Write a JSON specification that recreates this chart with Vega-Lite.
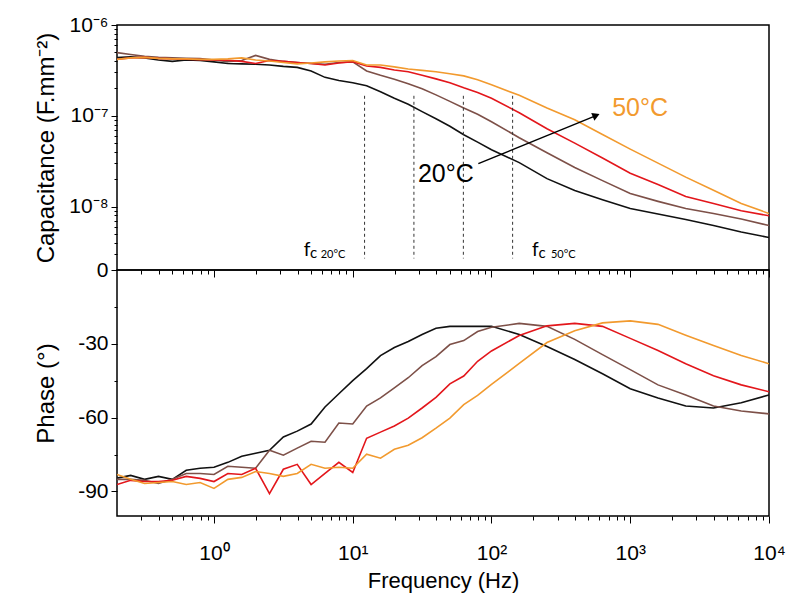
{
  "$schema": "https://vega.github.io/schema/vega-lite/v6.json",
  "padding": {"left": 33, "top": 13, "right": 5, "bottom": 5},
  "background": "white",
  "spacing": 0,
  "bounds": "flush",
  "config": {
    "view": {"stroke": "#000", "strokeWidth": 1.5},
    "font": "Liberation Sans",
    "axis": {"grid": false, "domain": false, "tickColor": "#000", "labelColor": "#000", "titleColor": "#000", "labelFont": "Liberation Sans", "titleFont": "Liberation Sans", "titleFontWeight": "normal", "labelFontSize": 21, "titleFontSize": 23, "labelFlush": false, "labelOverlap": false, "labelBound": false}
  },
  "datasets": {
    "curves": [
      {"T":"20°C","f":0.2,"c":4.37e-7,"p":-84.6},{"T":"20°C","f":0.251,"c":4.45e-7,"p":-83.5},{"T":"20°C","f":0.316,"c":4.34e-7,"p":-85.1},{"T":"20°C","f":0.398,"c":4.12e-7,"p":-83.9},{"T":"20°C","f":0.501,"c":3.97e-7,"p":-85.1},{"T":"20°C","f":0.631,"c":4.12e-7,"p":-81.4},{"T":"20°C","f":0.794,"c":4.07e-7,"p":-80.6},{"T":"20°C","f":1,"c":3.92e-7,"p":-80.2},{"T":"20°C","f":1.259,"c":3.77e-7,"p":-78.2},{"T":"20°C","f":1.585,"c":3.73e-7,"p":-75.7},{"T":"20°C","f":1.995,"c":3.70e-7,"p":-74.5},{"T":"20°C","f":2.512,"c":3.63e-7,"p":-73.3},{"T":"20°C","f":3.162,"c":3.50e-7,"p":-67.9},{"T":"20°C","f":3.981,"c":3.41e-7,"p":-65.5},{"T":"20°C","f":5.012,"c":3.12e-7,"p":-62.6},{"T":"20°C","f":6.31,"c":2.65e-7,"p":-55.7},{"T":"20°C","f":7.943,"c":2.45e-7,"p":-50.3},{"T":"20°C","f":10,"c":2.31e-7,"p":-45.0},{"T":"20°C","f":12.59,"c":2.14e-7,"p":-40.1},{"T":"20°C","f":15.85,"c":1.84e-7,"p":-34.8},{"T":"20°C","f":19.95,"c":1.56e-7,"p":-31.5},{"T":"20°C","f":25.12,"c":1.34e-7,"p":-29.1},{"T":"20°C","f":31.62,"c":1.11e-7,"p":-26.2},{"T":"20°C","f":39.81,"c":9.27e-8,"p":-23.7},{"T":"20°C","f":50.12,"c":7.67e-8,"p":-22.9},{"T":"20°C","f":63.1,"c":6.18e-8,"p":-22.9},{"T":"20°C","f":79.43,"c":5.12e-8,"p":-22.9},{"T":"20°C","f":100,"c":4.23e-8,"p":-22.9},{"T":"20°C","f":158.5,"c":3.05e-8,"p":-26.2},{"T":"20°C","f":251.2,"c":2.03e-8,"p":-31.1},{"T":"20°C","f":398.1,"c":1.50e-8,"p":-36.4},{"T":"20°C","f":631,"c":1.19e-8,"p":-42.2},{"T":"20°C","f":1000,"c":9.50e-9,"p":-48.3},{"T":"20°C","f":1585,"c":8.28e-9,"p":-52.0},{"T":"20°C","f":2512,"c":7.19e-9,"p":-55.3},{"T":"20°C","f":3981,"c":6.18e-9,"p":-56.1},{"T":"20°C","f":6310,"c":5.25e-9,"p":-54.0},{"T":"20°C","f":10000,"c":4.56e-9,"p":-50.8},
      {"T":"30°C","f":0.2,"c":4.96e-7,"p":-85.1},{"T":"30°C","f":0.251,"c":4.74e-7,"p":-85.1},{"T":"30°C","f":0.316,"c":4.51e-7,"p":-85.5},{"T":"30°C","f":0.398,"c":4.40e-7,"p":-86.8},{"T":"30°C","f":0.501,"c":4.34e-7,"p":-85.1},{"T":"30°C","f":0.631,"c":4.31e-7,"p":-82.7},{"T":"30°C","f":0.794,"c":4.26e-7,"p":-82.7},{"T":"30°C","f":1,"c":4.12e-7,"p":-83.1},{"T":"30°C","f":1.259,"c":3.95e-7,"p":-79.8},{"T":"30°C","f":1.585,"c":4.07e-7,"p":-80.2},{"T":"30°C","f":1.995,"c":4.62e-7,"p":-80.6},{"T":"30°C","f":2.512,"c":4.18e-7,"p":-73.3},{"T":"30°C","f":3.162,"c":3.97e-7,"p":-75.3},{"T":"30°C","f":3.981,"c":3.87e-7,"p":-72.4},{"T":"30°C","f":5.012,"c":3.77e-7,"p":-69.6},{"T":"30°C","f":6.31,"c":3.70e-7,"p":-70.0},{"T":"30°C","f":7.943,"c":3.87e-7,"p":-62.2},{"T":"30°C","f":10,"c":3.92e-7,"p":-62.6},{"T":"30°C","f":12.59,"c":3.12e-7,"p":-55.3},{"T":"30°C","f":15.85,"c":2.79e-7,"p":-52.0},{"T":"30°C","f":19.95,"c":2.52e-7,"p":-47.9},{"T":"30°C","f":25.12,"c":2.25e-7,"p":-43.8},{"T":"30°C","f":31.62,"c":1.98e-7,"p":-38.9},{"T":"30°C","f":39.81,"c":1.70e-7,"p":-35.2},{"T":"30°C","f":50.12,"c":1.44e-7,"p":-30.3},{"T":"30°C","f":63.1,"c":1.22e-7,"p":-28.7},{"T":"30°C","f":79.43,"c":1.04e-7,"p":-25.0},{"T":"30°C","f":100,"c":8.59e-8,"p":-23.3},{"T":"30°C","f":158.5,"c":5.73e-8,"p":-21.7},{"T":"30°C","f":251.2,"c":3.92e-8,"p":-22.9},{"T":"30°C","f":398.1,"c":2.69e-8,"p":-28.2},{"T":"30°C","f":631,"c":1.93e-8,"p":-34.4},{"T":"30°C","f":1000,"c":1.39e-8,"p":-40.5},{"T":"30°C","f":1585,"c":1.14e-8,"p":-46.7},{"T":"30°C","f":2512,"c":9.50e-9,"p":-50.8},{"T":"30°C","f":3981,"c":8.38e-9,"p":-55.3},{"T":"30°C","f":6310,"c":7.29e-9,"p":-57.3},{"T":"30°C","f":10000,"c":6.18e-9,"p":-58.5},
      {"T":"40°C","f":0.2,"c":4.20e-7,"p":-87.2},{"T":"40°C","f":0.251,"c":4.34e-7,"p":-85.5},{"T":"40°C","f":0.316,"c":4.40e-7,"p":-86.0},{"T":"40°C","f":0.398,"c":4.29e-7,"p":-86.0},{"T":"40°C","f":0.501,"c":4.23e-7,"p":-85.5},{"T":"40°C","f":0.631,"c":4.20e-7,"p":-83.9},{"T":"40°C","f":0.794,"c":4.16e-7,"p":-84.7},{"T":"40°C","f":1,"c":4.12e-7,"p":-86.0},{"T":"40°C","f":1.259,"c":4.09e-7,"p":-82.7},{"T":"40°C","f":1.585,"c":3.97e-7,"p":-83.1},{"T":"40°C","f":1.995,"c":3.77e-7,"p":-80.6},{"T":"40°C","f":2.512,"c":4.07e-7,"p":-90.9},{"T":"40°C","f":3.162,"c":3.97e-7,"p":-81.0},{"T":"40°C","f":3.981,"c":3.87e-7,"p":-79.0},{"T":"40°C","f":5.012,"c":3.77e-7,"p":-87.2},{"T":"40°C","f":6.31,"c":3.63e-7,"p":-82.7},{"T":"40°C","f":7.943,"c":3.82e-7,"p":-78.2},{"T":"40°C","f":10,"c":3.95e-7,"p":-82.3},{"T":"40°C","f":12.59,"c":3.54e-7,"p":-68.4},{"T":"40°C","f":15.85,"c":3.41e-7,"p":-65.9},{"T":"40°C","f":19.95,"c":3.20e-7,"p":-63.4},{"T":"40°C","f":25.12,"c":3.05e-7,"p":-60.2},{"T":"40°C","f":31.62,"c":2.79e-7,"p":-56.1},{"T":"40°C","f":39.81,"c":2.55e-7,"p":-51.8},{"T":"40°C","f":50.12,"c":2.31e-7,"p":-46.3},{"T":"40°C","f":63.1,"c":2.03e-7,"p":-43.1},{"T":"40°C","f":79.43,"c":1.80e-7,"p":-37.1},{"T":"40°C","f":100,"c":1.56e-7,"p":-32.9},{"T":"40°C","f":158.5,"c":1.08e-7,"p":-26.6},{"T":"40°C","f":251.2,"c":7.19e-8,"p":-22.7},{"T":"40°C","f":398.1,"c":5.00e-8,"p":-21.7},{"T":"40°C","f":631,"c":3.43e-8,"p":-22.9},{"T":"40°C","f":1000,"c":2.33e-8,"p":-27.8},{"T":"40°C","f":1585,"c":1.75e-8,"p":-32.7},{"T":"40°C","f":2512,"c":1.29e-8,"p":-38.1},{"T":"40°C","f":3981,"c":1.08e-8,"p":-43.0},{"T":"40°C","f":6310,"c":9.0e-9,"p":-46.7},{"T":"40°C","f":10000,"c":7.91e-9,"p":-49.5},
      {"T":"50°C","f":0.2,"c":4.18e-7,"p":-83.1},{"T":"50°C","f":0.251,"c":4.34e-7,"p":-85.1},{"T":"50°C","f":0.316,"c":4.40e-7,"p":-86.8},{"T":"50°C","f":0.398,"c":4.29e-7,"p":-86.4},{"T":"50°C","f":0.501,"c":4.23e-7,"p":-86.0},{"T":"50°C","f":0.631,"c":4.23e-7,"p":-87.2},{"T":"50°C","f":0.794,"c":4.18e-7,"p":-86.4},{"T":"50°C","f":1,"c":4.18e-7,"p":-88.8},{"T":"50°C","f":1.259,"c":4.23e-7,"p":-85.1},{"T":"50°C","f":1.585,"c":4.34e-7,"p":-84.3},{"T":"50°C","f":1.995,"c":4.12e-7,"p":-81.9},{"T":"50°C","f":2.512,"c":4.02e-7,"p":-82.7},{"T":"50°C","f":3.162,"c":3.87e-7,"p":-83.9},{"T":"50°C","f":3.981,"c":3.73e-7,"p":-82.7},{"T":"50°C","f":5.012,"c":3.82e-7,"p":-79.0},{"T":"50°C","f":6.31,"c":3.92e-7,"p":-80.6},{"T":"50°C","f":7.943,"c":4.02e-7,"p":-80.2},{"T":"50°C","f":10,"c":4.07e-7,"p":-80.6},{"T":"50°C","f":12.59,"c":3.63e-7,"p":-74.9},{"T":"50°C","f":15.85,"c":3.63e-7,"p":-76.5},{"T":"50°C","f":19.95,"c":3.46e-7,"p":-72.9},{"T":"50°C","f":25.12,"c":3.28e-7,"p":-71.2},{"T":"50°C","f":31.62,"c":3.16e-7,"p":-68.2},{"T":"50°C","f":39.81,"c":3.05e-7,"p":-64.3},{"T":"50°C","f":50.12,"c":2.90e-7,"p":-60.2},{"T":"50°C","f":63.1,"c":2.75e-7,"p":-54.7},{"T":"50°C","f":79.43,"c":2.49e-7,"p":-51.0},{"T":"50°C","f":100,"c":2.19e-7,"p":-46.5},{"T":"50°C","f":158.5,"c":1.68e-7,"p":-38.0},{"T":"50°C","f":251.2,"c":1.22e-7,"p":-29.5},{"T":"50°C","f":398.1,"c":9.04e-8,"p":-24.7},{"T":"50°C","f":631,"c":6.21e-8,"p":-21.5},{"T":"50°C","f":1000,"c":4.29e-8,"p":-20.7},{"T":"50°C","f":1585,"c":3.01e-8,"p":-22.1},{"T":"50°C","f":2512,"c":2.11e-8,"p":-26.5},{"T":"50°C","f":3981,"c":1.51e-8,"p":-30.7},{"T":"50°C","f":6310,"c":1.08e-8,"p":-34.8},{"T":"50°C","f":10000,"c":8.38e-9,"p":-38.1}
    ],
    "vlines": [
      {"f":12.17,"c":1.66e-7,"c2":2.68e-9},{"f":27.6,"c":1.66e-7,"c2":2.68e-9},{"f":62.7,"c":1.66e-7,"c2":2.68e-9},{"f":142,"c":1.66e-7,"c2":2.68e-9}
    ],
    "fsym": [{"f":4.43,"c":2.82e-9,"t":"f"},{"f":195.7,"c":2.82e-9,"t":"f"}],
    "csub": [{"f":4.92,"c":2.82e-9,"t":"c"},{"f":218.4,"c":2.82e-9,"t":"c"}],
    "tsub": [{"f":5.87,"c":2.82e-9,"t":"20°C"},{"f":268.2,"c":2.82e-9,"t":"50°C"}],
    "low": [{"f":46.9,"c":2.28e-8,"t":"20°C"}],
    "high": [{"f":1177,"c":1.21e-7,"t":"50°C"}],
    "arrow": [{"f":80.4,"c":2.97e-8,"f2":549.5,"c2":9.87e-8}],
    "head": [{"f":568,"c":1.0077e-7}]
  },
  "vconcat": [
    {
      "width": 652,
      "height": 245,
      "layer": [
        {
          "data": {"name": "curves"},
          "mark": {"type": "line", "strokeWidth": 1.6, "clip": true},
          "encoding": {
            "x": {"field": "f", "type": "quantitative", "scale": {"type": "log", "domain": [0.2, 10000], "nice": false},
              "axis": {"values": [0.3,0.4,0.5,0.6,0.7,0.8,0.9,1,2,3,4,5,6,7,8,9,10,20,30,40,50,60,70,80,90,100,200,300,400,500,600,700,800,900,1000,2000,3000,4000,5000,6000,7000,8000,9000,10000],
                "labels": false, "title": null, "tickSize": {"condition": {"test": "indexof([1,10,100,1000,10000], datum.value) >= 0", "value": 7}, "value": 4}}},
            "y": {"field": "c", "type": "quantitative", "scale": {"type": "log", "domain": [2e-9, 1e-6], "nice": false},
              "axis": {"values": [2e-9,3e-9,4e-9,5e-9,6e-9,7e-9,8e-9,9e-9,1e-8,2e-8,3e-8,4e-8,5e-8,6e-8,7e-8,8e-8,9e-8,1e-7,2e-7,3e-7,4e-7,5e-7,6e-7,7e-7,8e-7,9e-7,1e-6],
                "labelExpr": "datum.value == 1e-6 ? '10⁻⁶' : datum.value == 1e-7 ? '10⁻⁷' : datum.value == 1e-8 ? '10⁻⁸' : datum.value == 2e-9 ? '0' : ''",
                "tickSize": {"condition": {"test": "indexof([2e-9,1e-8,1e-7,1e-6], datum.value) >= 0", "value": 6}, "value": 3},
                "labelPadding": 3,
                "title": "Capacitance (F.mm⁻²)", "titleX": -71, "titleY": 122.5, "titleAngle": 270, "titleAlign": "center", "titleBaseline": "middle", "titleFontSize": 24}},
            "color": {"field": "T", "type": "nominal", "scale": {"domain": ["20°C","30°C","40°C","50°C"], "range": ["#111111","#7d5048","#e3161b","#f29a2e"]}, "legend": null}
          }
        },
        {
          "data": {"name": "vlines"},
          "mark": {"type": "rule", "strokeDash": [3, 3], "color": "#333", "strokeWidth": 1},
          "encoding": {
            "x": {"field": "f", "type": "quantitative"},
            "y": {"field": "c", "type": "quantitative"},
            "y2": {"field": "c2"}
          }
        },
        {
          "data": {"name": "fsym"},
          "mark": {"type": "text", "font": "Lato", "fontSize": 19, "align": "left", "baseline": "alphabetic", "color": "#000"},
          "encoding": {"x": {"field": "f", "type": "quantitative"}, "y": {"field": "c", "type": "quantitative"}, "text": {"field": "t"}}
        },
        {
          "data": {"name": "csub"},
          "mark": {"type": "text", "font": "Lato", "fontSize": 15, "align": "left", "baseline": "alphabetic", "color": "#000", "dy": 2},
          "encoding": {"x": {"field": "f", "type": "quantitative"}, "y": {"field": "c", "type": "quantitative"}, "text": {"field": "t"}}
        },
        {
          "data": {"name": "tsub"},
          "mark": {"type": "text", "font": "Lato", "fontSize": 11, "align": "left", "baseline": "alphabetic", "color": "#000", "dy": 2},
          "encoding": {"x": {"field": "f", "type": "quantitative"}, "y": {"field": "c", "type": "quantitative"}, "text": {"field": "t"}}
        },
        {
          "data": {"name": "arrow"},
          "mark": {"type": "rule", "color": "#000", "strokeWidth": 1.4},
          "encoding": {
            "x": {"field": "f", "type": "quantitative"}, "x2": {"field": "f2"},
            "y": {"field": "c", "type": "quantitative"}, "y2": {"field": "c2"}
          }
        },
        {
          "data": {"name": "head"},
          "mark": {"type": "point", "shape": "triangle-right", "filled": true, "color": "#000", "size": 70, "angle": 337.7, "opacity": 1},
          "encoding": {"x": {"field": "f", "type": "quantitative"}, "y": {"field": "c", "type": "quantitative"}}
        },
        {
          "data": {"name": "low"},
          "mark": {"type": "text", "fontSize": 25, "align": "center", "baseline": "middle", "color": "#000"},
          "encoding": {"x": {"field": "f", "type": "quantitative"}, "y": {"field": "c", "type": "quantitative"}, "text": {"field": "t"}}
        },
        {
          "data": {"name": "high"},
          "mark": {"type": "text", "fontSize": 25, "align": "center", "baseline": "middle", "color": "#f29a2e"},
          "encoding": {"x": {"field": "f", "type": "quantitative"}, "y": {"field": "c", "type": "quantitative"}, "text": {"field": "t"}}
        }
      ]
    },
    {
      "width": 652,
      "height": 246,
      "data": {"name": "curves"},
      "mark": {"type": "line", "strokeWidth": 1.6, "clip": true},
      "encoding": {
        "x": {"field": "f", "type": "quantitative", "scale": {"type": "log", "domain": [0.2, 10000], "nice": false},
          "axis": {"values": [0.3,0.4,0.5,0.6,0.7,0.8,0.9,1,2,3,4,5,6,7,8,9,10,20,30,40,50,60,70,80,90,100,200,300,400,500,600,700,800,900,1000,2000,3000,4000,5000,6000,7000,8000,9000,10000],
            "labelExpr": "datum.value == 1 ? '10⁰' : datum.value == 10 ? '10¹' : datum.value == 100 ? '10²' : datum.value == 1000 ? '10³' : datum.value == 10000 ? '10⁴' : ''",
            "tickSize": {"condition": {"test": "indexof([1,10,100,1000,10000], datum.value) >= 0", "value": 7}, "value": 4},
            "labelPadding": 19, "title": "Frequency (Hz)", "titleFontSize": 22, "titlePadding": 7}},
        "y": {"field": "p", "type": "quantitative", "scale": {"domain": [-100, 0], "nice": false, "zero": false},
          "axis": {"values": [-90,-75,-60,-45,-30,-15],
            "labelExpr": "datum.value % 30 == 0 ? '' + datum.value : ''",
            "tickSize": {"condition": {"test": "datum.value % 30 == 0", "value": 6}, "value": 3},
            "labelPadding": 3,
            "title": "Phase (°)", "titleX": -71, "titleY": 123, "titleAngle": 270, "titleAlign": "center", "titleBaseline": "middle", "titleFontSize": 24}},
        "color": {"field": "T", "type": "nominal", "scale": {"domain": ["20°C","30°C","40°C","50°C"], "range": ["#111111","#7d5048","#e3161b","#f29a2e"]}, "legend": null}
      }
    }
  ]
}
